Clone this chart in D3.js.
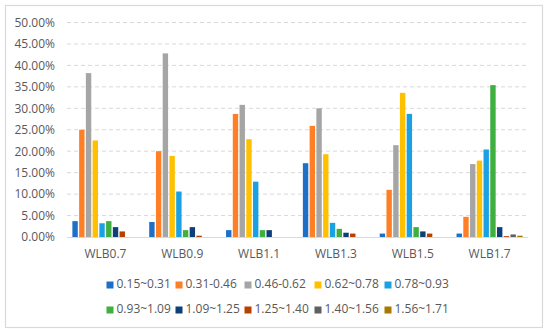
<!DOCTYPE html>
<html>
<head>
<meta charset="utf-8">
<script src="https://cdn.jsdelivr.net/npm/d3@7"></script>
<style>
  body{margin:0;background:#fff;}
  text{font-family:"Open Sans","Noto Sans",sans-serif;fill:#595959;}
</style>
</head>
<body>
<svg id="chart" width="550" height="336"></svg>
<script>
// groups on the x axis
var categories = ["WLB0.7","WLB0.9","WLB1.1","WLB1.3","WLB1.5","WLB1.7"];
// series names (legend)
var seriesNames = ["0.15~0.31","0.31-0.46","0.46-0.62","0.62~0.78","0.78~0.93",
                   "0.93~1.09","1.09~1.25","1.25~1.40","1.40~1.56","1.56~1.71"];
var seriesColors = ["#1E6FC8","#FF7F27","#A5A5A5","#FFC000","#1BA1E2",
                    "#3FAF3F","#0F3F78","#B84000","#606060","#A87800"];
// percent values, one array per series, in category order
var s015 = [3.7, 3.5, 1.6, 17.2, 0.8, 0.8];
var s031 = [25.0, 20.0, 28.7, 25.9, 11.0, 4.7];
var s046 = [38.2, 42.8, 30.8, 30.0, 21.4, 17.0];
var s062 = [22.5, 18.9, 22.8, 19.3, 33.6, 17.8];
var s078 = [3.2, 10.6, 12.9, 3.3, 28.7, 20.4];
var s093 = [3.7, 1.6, 1.6, 1.9, 2.3, 35.4];
var s109 = [2.3, 2.3, 1.6, 1.0, 1.3, 2.3];
var s125 = [1.3, 0.3, 0, 0.8, 0.8, 0.2];
var s140 = [0, 0, 0, 0, 0, 0.6];
var s156 = [0, 0, 0, 0, 0, 0.3];
var seriesValues = [s015,s031,s046,s062,s078,s093,s109,s125,s140,s156];
var yTicks = [0,5,10,15,20,25,30,35,40,45,50];

var svg = d3.select("#chart");
var plotLeft = 67, plotRight = 528, plotTop = 22.5, plotBottom = 237;

svg.append("rect").attr("x",5.5).attr("y",5.5).attr("width",537).attr("height",322)
   .attr("fill","#fff").attr("stroke","#D9D9D9").attr("stroke-width",1.2);

var x0 = d3.scaleBand().domain(categories).range([plotLeft,plotRight]).paddingInner(0.14).paddingOuter(0.07);
var x1 = d3.scaleBand().domain(d3.range(seriesNames.length)).range([0,x0.bandwidth()]).paddingInner(0.2);
var y = d3.scaleLinear().domain([0,50]).range([plotBottom,plotTop]);

// gridlines
svg.append("g").selectAll("line").data(yTicks.filter(function(d){return d>0;})).enter()
   .append("line")
   .attr("x1",plotLeft).attr("x2",plotRight)
   .attr("y1",function(d){return y(d);}).attr("y2",function(d){return y(d);})
   .attr("stroke","#D9D9D9").attr("stroke-width",1).attr("stroke-dasharray","4,3");

// y axis labels
var yAxis = d3.axisLeft(y).tickValues(yTicks).tickSize(0).tickPadding(12)
   .tickFormat(function(d){return d.toFixed(2)+"%";});
var yg = svg.append("g").attr("transform","translate("+plotLeft+",0)").call(yAxis);
yg.select(".domain").remove();
yg.selectAll("text").attr("font-family",null).attr("font-size",null)
   .style("font-size","12px").attr("fill","#595959");

// bars
var groups = svg.append("g").selectAll("g").data(categories).enter().append("g")
   .attr("transform",function(d){return "translate("+x0(d)+",0)";});
groups.each(function(cat,ci){
    var g = d3.select(this);
    seriesValues.forEach(function(vals,si){
        var v = vals[ci];
        if(v<=0) return;
        g.append("rect")
         .attr("x",x1(si))
         .attr("y",y(v))
         .attr("width",x1.bandwidth())
         .attr("height",y(0)-y(v))
         .attr("fill",seriesColors[si]);
    });
});

// baseline + x axis labels
svg.append("line").attr("x1",plotLeft).attr("x2",plotRight).attr("y1",plotBottom+0.5).attr("y2",plotBottom+0.5)
   .attr("stroke","#D9D9D9").attr("stroke-width",1);
var xAxis = d3.axisBottom(x0).tickSize(0).tickPadding(12);
var xg = svg.append("g").attr("transform","translate(0,"+plotBottom+")").call(xAxis);
xg.select(".domain").remove();
xg.attr("font-family",null).attr("font-size",null);
xg.selectAll("text").style("font-size","12px").attr("fill","#595959");
yg.attr("font-family",null).attr("font-size",null);

// legend, two rows of five
var legendX = [106.5, 175.5, 244.5, 314.5, 384.5];
var legendY = [285, 310];
var legend = svg.append("g").selectAll("g").data(seriesNames).enter().append("g")
   .attr("transform",function(d,i){return "translate("+legendX[i%5]+","+legendY[Math.floor(i/5)]+")";});
legend.append("rect").attr("x",0).attr("y",-3.5).attr("width",7).attr("height",7)
   .attr("fill",function(d,i){return seriesColors[i];});
legend.append("text").attr("x",10).attr("y",0).attr("dominant-baseline","middle")
   .style("font-size","12px").text(function(d){return d;});
</script>
</body>
</html>
